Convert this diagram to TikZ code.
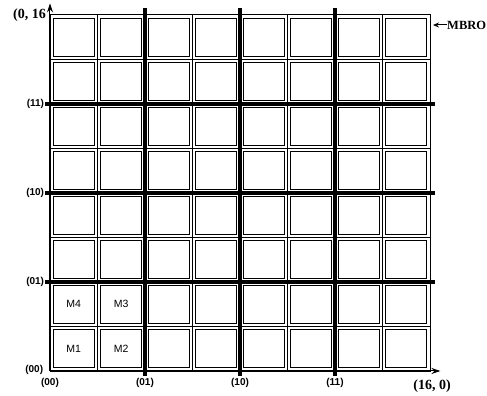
\documentclass[tikz,border=0pt]{standalone}
\usepackage{fontspec}
\setmainfont{Liberation Serif}
\setsansfont{Liberation Sans}
\usetikzlibrary{arrows.meta}

\begin{document}
\begin{tikzpicture}[
    x=47.5pt, y=44.5pt,
    gridline/.style={draw=black, line width=0.5pt},
    cellbox/.style={draw=black, line width=1.3pt, fill=white, minimum width=41pt, minimum height=38pt, inner sep=0pt},
    splitline/.style={draw=black, line width=4pt},
    axisline/.style={draw=black, line width=1pt, -{Stealth[length=9pt, width=6pt]}},
    pointer/.style={draw=black, line width=1pt, -{Stealth[length=6pt, width=5pt]}},
    ticklabel/.style={font=\sffamily\bfseries\fontsize{10}{10}\selectfont, inner sep=1pt},
    cornerlabel/.style={font=\bfseries\fontsize{14}{14}\selectfont, inner sep=0pt},
    celllabel/.style={font=\sffamily\fontsize{10.5}{10.5}\selectfont}
]
\useasboundingbox (-50pt,-25pt) rectangle (437pt,371pt);

% Frame and thin cell boundaries
    \draw[gridline] (0,0) rectangle (8,8.02);
    \foreach \i in {1,...,7} {
        \draw[gridline] (\i,0) -- (\i,8.02);
        \draw[gridline] (0,\i) -- (8,\i);
    }

% Cells (8 x 8)
    \foreach \c in {0,...,7} {
        \foreach \r in {0,...,7} {
            \node[cellbox] (c-\c-\r) at (\c+0.5,\r+0.5) {};
        }
    }

% Quadrant splits
    \foreach \i in {2,4,6} {
        \draw[splitline] (\i,-0.11) -- (\i,8.16);
        \draw[splitline] (-0.1,\i) -- (8.1,\i);
    }

% Axes
    \coordinate (origin) at (0,0);
    \coordinate (xend) at (8.22,0);
    \coordinate (yend) at (0,8.26);
    \draw[axisline] (origin) -- (xend);
    \draw[axisline] (origin) -- (yend);

% Cell labels
    \node[celllabel] (m1) at (c-0-0) {M1};
    \node[celllabel] (m2) at (c-1-0) {M2};
    \node[celllabel] (m3) at (c-1-1) {M3};
    \node[celllabel] (m4) at (c-0-1) {M4};

% Axis labels
    \node[ticklabel, anchor=east] (y00) at (-0.12,0.03) {(00)};
    \node[ticklabel, anchor=east] (y01) at (-0.1,2) {(01)};
    \node[ticklabel, anchor=east] (y10) at (-0.1,4) {(10)};
    \node[ticklabel, anchor=east] (y11) at (-0.1,6) {(11)};
    \node[ticklabel, anchor=north] (x00) at (0,-0.14) {(00)};
    \node[ticklabel, anchor=north] (x01) at (2,-0.14) {(01)};
    \node[ticklabel, anchor=north] (x10) at (4,-0.14) {(10)};
    \node[ticklabel, anchor=north] (x11) at (6,-0.14) {(11)};
    \node[cornerlabel, anchor=east] (top) at (-4pt,356pt) {(0, 16};
    \node[cornerlabel] (corner) at (382pt,-15pt) {(16, 0)};

% MBR pointer
    \node[font=\bfseries\fontsize{12.5}{12.5}\selectfont, inner sep=0pt, anchor=west] (mbro) at (397pt,346pt) {MBRO};
    \coordinate (mbroptr) at (383pt,346pt);
    \draw[pointer] (mbro) -- (mbroptr);
\end{tikzpicture}
\end{document}
